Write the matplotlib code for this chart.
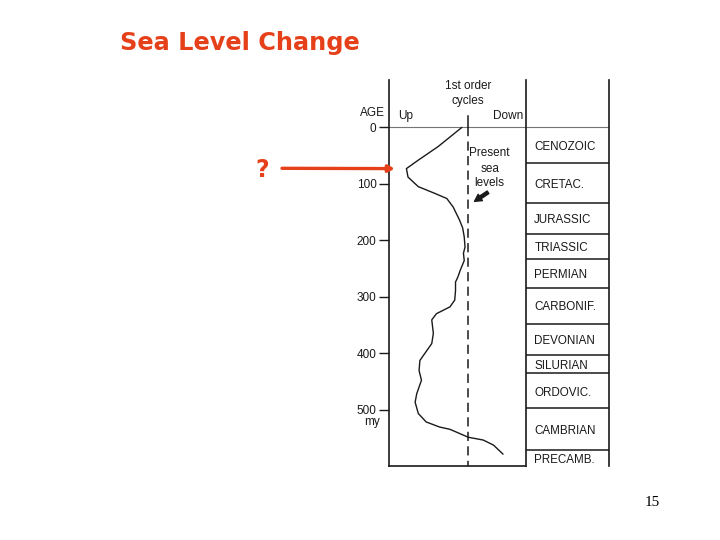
import matplotlib.pyplot as plt

# -----------------------
# DATA
# -----------------------
# first order sea level curve: age in my, level relative to present (0), up > 0
curve_age = [0, 34, 58, 73, 88, 105, 117, 126, 141, 164, 178, 194, 212, 223, 236,
             253, 265, 274, 289, 306, 318, 330, 341, 365, 383, 401, 413, 431, 448,
             472, 487, 507, 522, 531, 535, 549, 554, 563, 579]
curve_level = [0.08, 0.38, 0.63, 0.78, 0.76, 0.63, 0.42, 0.27, 0.19, 0.11, 0.07, 0.05,
               0.04, 0.06, 0.05, 0.10, 0.13, 0.16, 0.16, 0.17, 0.23, 0.40, 0.46, 0.44,
               0.46, 0.55, 0.61, 0.62, 0.59, 0.65, 0.67, 0.63, 0.53, 0.36, 0.23, 0.00,
               -0.19, -0.32, -0.44]

periods = ["CENOZOIC", "CRETAC.", "JURASSIC", "TRIASSIC", "PERMIAN", "CARBONIF.",
           "DEVONIAN", "SILURIAN", "ORDOVIC.", "CAMBRIAN", "PRECAMB."]
period_bounds = [0, 63, 134, 189, 234, 284, 348, 404, 436, 498, 571, 600]

age_ticks = [0, 100, 200, 300, 400, 500]
age_labels = ["0", "100", "200", "300", "400", "500"]

highstand_age = 73

RED = "#e5401a"
INK = "#1a1a1a"
LABEL_FONT = "Liberation Sans"

# -----------------------
# FIGURE
# -----------------------
fig = plt.figure(figsize=(7.2, 5.4), dpi=100)
fig.patch.set_facecolor("white")

ax = fig.add_axes([389 / 720, 1 - 466 / 540, 137 / 720, 386 / 540])
tab = fig.add_axes([526 / 720, 1 - 466 / 540, 83 / 720, 386 / 540], sharey=ax)

ax.set_ylim(600, -84)
ax.set_xlim(1.0, -0.73)

# curve
ax.plot(curve_level, curve_age, color=INK, lw=1.0,
        solid_joinstyle="round", solid_capstyle="round")

# present sea level (solid above age 0, dashed below)
ax.plot([0, 0], [-20, 0], color=INK, lw=1.1)
ax.plot([0, 0], [0, 600], color=INK, lw=1.1, ls=(0, (6, 3.5)))

# age 0 line
ax.axhline(0, color=INK, lw=0.8, alpha=0.6)
tab.axhline(0, color=INK, lw=0.8, alpha=0.6)

# spines / ticks
for s in ["top", "right"]:
    ax.spines[s].set_visible(False)
ax.spines["left"].set_linewidth(1.2)
ax.spines["bottom"].set_linewidth(1.2)
ax.spines["left"].set_color(INK)
ax.spines["bottom"].set_color(INK)
ax.set_xticks([])
ax.set_yticks(age_ticks)
ax.set_yticklabels(age_labels, fontfamily=LABEL_FONT, fontsize=8.5, color=INK)
ax.tick_params(axis="y", length=7, width=1, pad=2, colors=INK)

for s in ["top", "bottom"]:
    tab.spines[s].set_visible(False)
for s in ["left", "right"]:
    tab.spines[s].set_linewidth(1.2)
    tab.spines[s].set_color(INK)
tab.set_xticks([])
tab.tick_params(axis="y", left=False, labelleft=False)
tab.set_xlim(0, 1)

# header texts
txt = dict(fontfamily=LABEL_FONT, fontsize=8.5, color=INK)
ax.text(0, -73, "1st order", ha="center", va="center", **txt)
ax.text(0, -47, "cycles", ha="center", va="center", **txt)
ax.text(0.89, -20, "Up", ha="left", va="center", **txt)
ax.text(-0.69, -20, "Down", ha="right", va="center", **txt)
ax.text(1.21, -25, "AGE", ha="center", va="center", **txt)
ax.text(1.21, 522, "my", ha="center", va="center", **txt)

ax.text(-0.27, 46, "Present", ha="center", va="center", **txt)
ax.text(-0.27, 74, "sea", ha="center", va="center", **txt)
ax.text(-0.27, 99, "levels", ha="center", va="center", **txt)
ax.annotate("", xy=(-0.08, 131), xytext=(-0.25, 115),
            arrowprops=dict(arrowstyle="simple,head_width=0.55,head_length=0.5,tail_width=0.22",
                            color=INK, shrinkA=0, shrinkB=0))

# period table
for b in period_bounds[1:-1]:
    tab.axhline(b, color=INK, lw=1.1)
for name, top, bot in zip(periods, period_bounds[:-1], period_bounds[1:]):
    tab.text(0.1, (top + bot) / 2 + 3, name, ha="left", va="center",
             fontfamily=LABEL_FONT, fontsize=8.4, color=INK)

# -----------------------
# SLIDE DECORATION
# -----------------------
fig.text(120 / 720, 1 - 43 / 540, "Sea Level Change", ha="left", va="center",
         fontfamily="DejaVu Sans", fontweight="bold", fontsize=17.3, color=RED)

fig.text(262 / 720, 1 - 170 / 540, "?", ha="center", va="center",
         fontfamily="DejaVu Sans", fontweight="bold", fontsize=17, color=RED)

ax.annotate("", xy=(0.93, highstand_age), xycoords="data",
            xytext=(282 / 720, 1 - 168.3 / 540), textcoords="figure fraction",
            arrowprops=dict(arrowstyle="-|>,head_length=0.35,head_width=0.2",
                            color=RED, lw=2.4, shrinkA=0, shrinkB=0),
            annotation_clip=False)

fig.text(652 / 720, 1 - 503 / 540, "15", ha="center", va="center",
         fontfamily="Liberation Serif", fontsize=11, color="black")

fig.savefig("out.png", dpi=100)
